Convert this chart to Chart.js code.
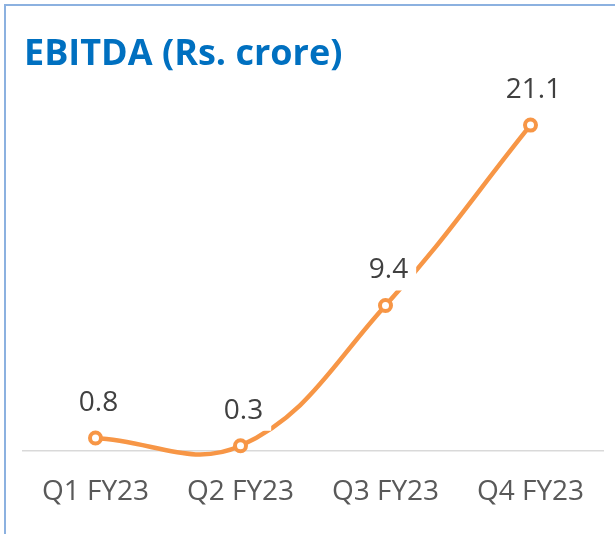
<!DOCTYPE html>
<html>
<head>
<title>EBITDA</title>
<style>
  html, body { margin: 0; padding: 0; background: #fff; }
  .frame {
    position: absolute; left: 4px; top: 4px; width: 700px; height: 600px;
    border-left: 2px solid #8cb1e0; border-top: 2px solid #8cb1e0;
  }
  .wrap { position: absolute; left: 0; top: 0; width: 615px; height: 534px; }
</style>
<script src="https://cdn.jsdelivr.net/npm/chart.js"></script>
</head>
<body>
<div class="frame"></div>
<div class="wrap"><canvas id="chart" width="615" height="534"></canvas></div>
<script>
const chartTitle = 'EBITDA (Rs. crore)';
const quarters = ['Q1 FY23', 'Q2 FY23', 'Q3 FY23', 'Q4 FY23'];
const ebitda = [0.8, 0.3, 9.4, 21.1];

const orange = '#f79646';

// title drawn in the top-left, like the slide heading
const titlePlugin = {
    id: 'slideTitle',
    afterDraw(chart) {
        const ctx = chart.ctx;
        ctx.save();
        ctx.font = 'bold 36px "Open Sans"';
        ctx.fillStyle = '#0070c0';
        ctx.textBaseline = 'alphabetic';
        ctx.textAlign = 'left';
        ctx.fillText(chartTitle, 24, 65);
        ctx.restore();
    }
};

// value labels above points, on a white box that hides the line behind
const valueLabels = {
    id: 'valueLabels',
    afterDatasetsDraw(chart) {
        const ctx = chart.ctx;
        const meta = chart.getDatasetMeta(0);
        ctx.save();
        ctx.font = '28px "Open Sans"';
        ctx.textAlign = 'center';
        ctx.textBaseline = 'alphabetic';
        meta.data.forEach((pt, i) => {
            const txt = ebitda[i].toFixed(1);
            const w = ctx.measureText(txt).width;
            const x = pt.x + 3;
            const base = pt.y - 27;
            ctx.fillStyle = '#fff';
            ctx.fillRect(x - w / 2 - 8, base - 30, w + 16, 42);
            ctx.fillStyle = '#404040';
            ctx.fillText(txt, x, base);
        });
        ctx.restore();
    }
};

new Chart(document.getElementById('chart'), {
    type: 'line',
    data: {
        labels: quarters,
        datasets: [{
            data: ebitda,
            borderColor: orange,
            borderWidth: 4.5,
            tension: 0.4,
            clip: false,
            pointRadius: 5.5,
            pointBorderWidth: 4,
            pointBackgroundColor: '#fff',
            pointBorderColor: orange
        }]
    },
    options: {
        responsive: false,
        animation: false,
        elements: { line: { capBezierPoints: false } },
        layout: { padding: { top: 65, left: 23, right: 12, bottom: 8 } },
        plugins: {
            legend: { display: false },
            tooltip: { enabled: false }
        },
        scales: {
            x: {
                offset: true,
                grid: { display: false },
                border: { display: true, color: '#d9d9d9', width: 1.5 },
                ticks: {
                    color: '#595959',
                    font: { family: 'Open Sans', size: 28 },
                    padding: 17,
                    maxRotation: 0
                }
            },
            y: {
                display: false,
                min: 0,
                max: 25
            }
        }
    },
    plugins: [valueLabels, titlePlugin]
});
</script>
</body>
</html>
